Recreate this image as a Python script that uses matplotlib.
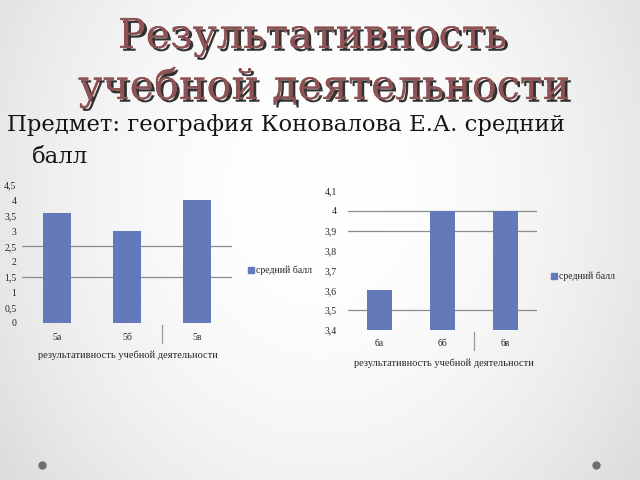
import numpy as np
import matplotlib
matplotlib.use("Agg")
import matplotlib.pyplot as plt
import matplotlib.patheffects as pe

# ---- data ----
left_categories = ["5а", "5б", "5в"]
left_values = [3.6, 3.0, 4.0]
left_yticks = [0, 0.5, 1, 1.5, 2, 2.5, 3, 3.5, 4, 4.5]
left_grid = [1.5, 2.5]

right_categories = ["6а", "6б", "6в"]
right_values = [3.6, 4.0, 4.0]
right_yticks = [3.4, 3.5, 3.6, 3.7, 3.8, 3.9, 4.0, 4.1]
right_grid = [3.5, 3.9, 4.0]

series_name = "средний балл"
x_title = "результативность учебной деятельности"
title_lines = ["Результативность", "учебной деятельности"]
subtitle_1 = "Предмет: география Коновалова Е.А. средний"
subtitle_2 = "балл"

W, H = 640, 480
fig = plt.figure(figsize=(6.4, 4.8), dpi=100)
renderer = fig.canvas.get_renderer()

# background gradient
bg = fig.add_axes([0, 0, 1, 1], zorder=-10)
yy, xx = np.mgrid[0:H, 0:W]
r = np.sqrt(((xx - W / 2) / (W / 2)) ** 2 + ((yy - H * 0.4) / (H * 0.8)) ** 2)
img = 1.0 - 0.09 * np.clip(r, 0, 1.4) ** 2
bg.imshow(np.dstack([img, img, img]), extent=[0, W, H, 0], aspect="auto")
bg.set_xlim(0, W)
bg.set_ylim(H, 0)
bg.axis("off")
bg.plot([42, 596], [465, 465], "o", color="#6e6e6e", markersize=5)

serif = ["Liberation Serif", "DejaVu Serif"]
wide_serif = ["DejaVu Serif"]
bar_color = "#6479b9"
txt = "#262626"


def fit_text(x0, x1, y, s, fs, **kw):
    t = bg.text(x0, y, s, fontsize=fs, ha="left", va="baseline", **kw)
    w = t.get_window_extent(renderer).width
    t.set_fontsize(fs * (x1 - x0) / w)
    return t


shadow = [pe.withSimplePatchShadow(offset=(2, -2), shadow_rgbFace="#000000", alpha=0.8),
          pe.Normal()]
fit_text(118, 507, 48, title_lines[0], 28, family=wide_serif, color="#8d5254",
         path_effects=shadow)
fit_text(78, 570, 99, title_lines[1], 28, family=wide_serif, color="#8d5254",
         path_effects=shadow)
t1 = fit_text(7, 565, 131, subtitle_1, 16, family=wide_serif, color="#151515")
bg.text(32, 163, subtitle_2, fontsize=t1.get_fontsize(), family=wide_serif,
        color="#151515", ha="left", va="baseline")


def make_chart(px_left, px_right, px_top, px_bottom, cats, vals, yticks, grid,
               ylim, tick_pad, cat_y, xlabel_y, leg_x, leg_y):
    ax = fig.add_axes([px_left / W, 1 - px_bottom / H,
                       (px_right - px_left) / W, (px_bottom - px_top) / H])
    ax.patch.set_alpha(0)
    x = np.arange(len(cats))
    ax.bar(x, [v - ylim[0] for v in vals], bottom=ylim[0], width=0.4,
           color=bar_color, zorder=3, label=series_name)
    for g in grid:
        ax.axhline(g, color="#8c8c8c", linewidth=0.9, zorder=1)
    ax.set_xlim(-0.5, len(cats) - 0.5)
    ax.set_ylim(*ylim)
    ax.set_yticks(yticks)
    ax.set_yticklabels([("%g" % t).replace(".", ",") for t in yticks],
                       family=serif, fontsize=7, color=txt)
    ax.tick_params(axis="y", length=0, pad=tick_pad)
    ax.set_xticks([])
    for s in ax.spines.values():
        s.set_visible(False)
    xs = ax.transData.transform(np.column_stack([x, np.zeros_like(x, dtype=float)]))
    for (px, _), c in zip(xs, cats):
        bg.text(px, cat_y, c, family=serif, fontsize=7, color=txt,
                ha="center", va="center")
    sep = ax.transData.transform((1.5, ylim[0]))[0]
    bg.plot([sep, sep], [px_bottom + 2, px_bottom + 20], color="#9a9a9a", lw=0.9)
    bg.text((px_left + px_right) / 2 + 1, xlabel_y, x_title, family=serif,
            fontsize=7.5, color=txt, ha="center", va="center")
    bg.plot([leg_x], [leg_y], "s", color=bar_color, markersize=4)
    bg.text(leg_x + 5, leg_y, series_name, family=serif, fontsize=7,
            color=txt, ha="left", va="center")
    return ax


make_chart(22, 232, 185, 323, left_categories, left_values, left_yticks, left_grid,
           (0, 4.5), 4, 337, 355, 251, 270)
make_chart(348, 537, 191, 330, right_categories, right_values, right_yticks, right_grid,
           (3.4, 4.1), 8, 343, 363, 554, 276)

fig.savefig("out.png", dpi=100)
